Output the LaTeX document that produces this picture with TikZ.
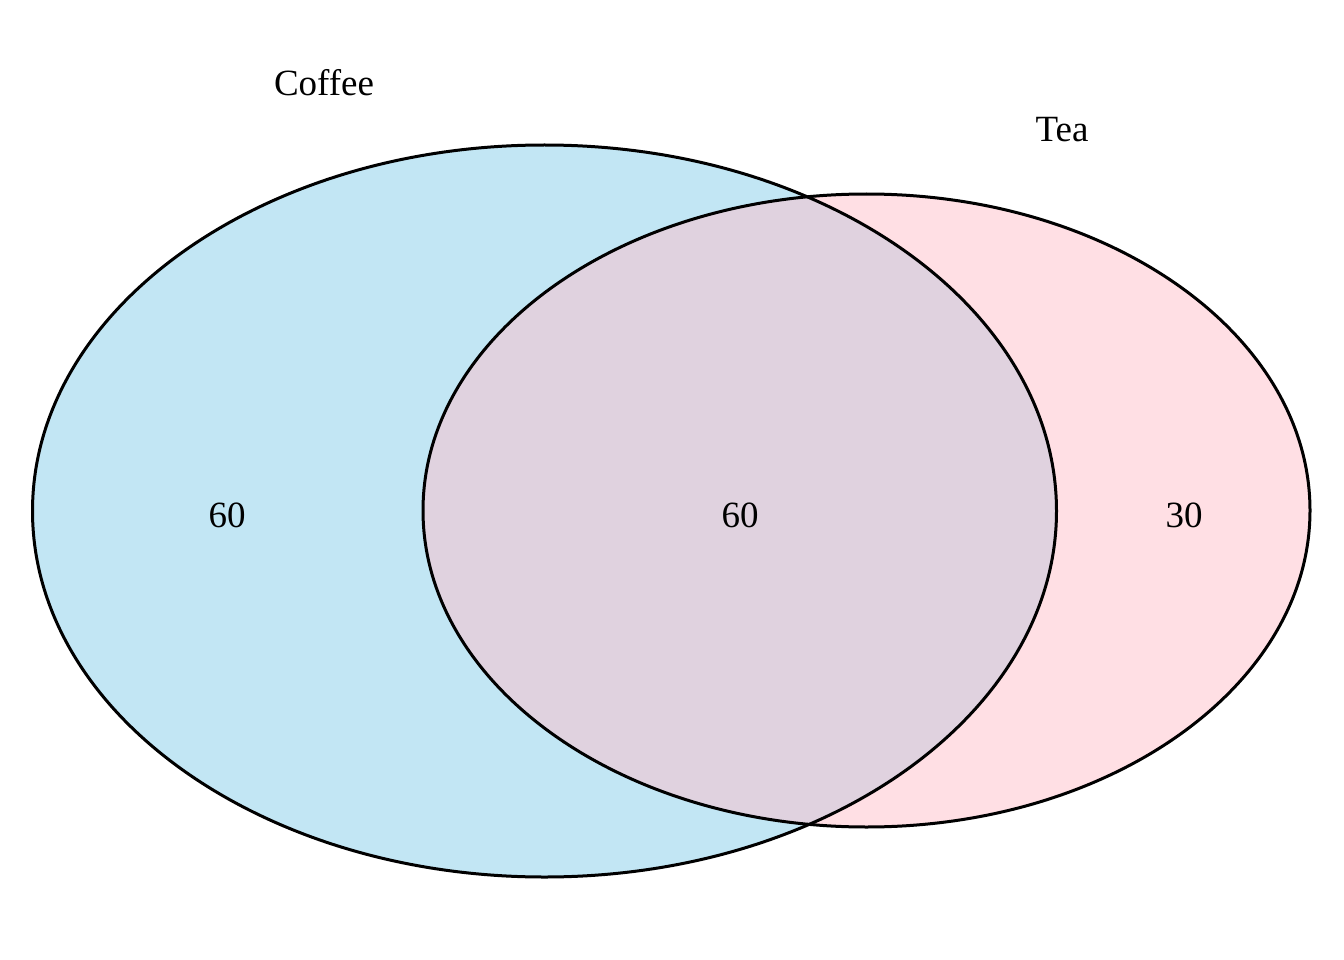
\documentclass[tikz,border=0pt]{standalone}
\usepackage{fontspec}
\setmainfont{Liberation Serif}
\definecolor{skyb}{RGB}{135,206,235}
\definecolor{pinkc}{RGB}{255,192,203}
\tikzset{
  setfill/.style={fill opacity=0.5},
  setline/.style={draw=black, line width=3pt},
  lab/.style={font=\fontsize{37}{44}\selectfont, inner sep=0pt, anchor=base}
}
\begin{document}
\begin{tikzpicture}[x=1pt,y=-1pt]
\useasboundingbox (0,0) rectangle (1344,960);
\fill[white] (0,0) rectangle (1344,960);
% fills
\fill[skyb, setfill] (544.5,511) ellipse [x radius=512, y radius=366];
\fill[pinkc, setfill] (866.5,510.5) ellipse [x radius=443.5, y radius=316.5];
% outlines
\draw[setline] (544.5,511) ellipse [x radius=512, y radius=366];
\draw[setline] (866.5,510.5) ellipse [x radius=443.5, y radius=316.5];
% labels
\node[lab] (coffee) at (324,96) {Coffee};
\node[lab] (tea) at (1062,142) {Tea};
\node[lab] (a) at (227,527) {60};
\node[lab] (ab) at (740,527) {60};
\node[lab] (b) at (1184,527) {30};
\end{tikzpicture}
\end{document}
